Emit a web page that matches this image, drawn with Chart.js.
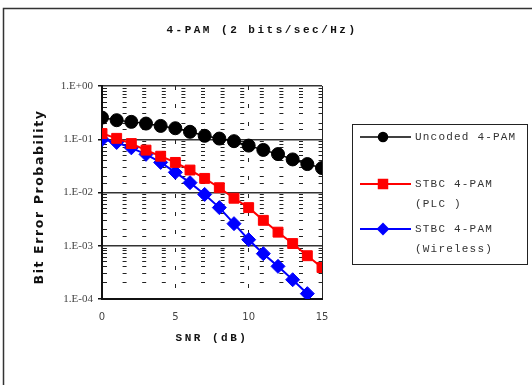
<!DOCTYPE html>
<html>
<head>
<meta charset="utf-8">
<script src="https://cdn.jsdelivr.net/npm/chart.js@4/dist/chart.umd.min.js"></script>
<style>
  html, body { margin: 0; padding: 0; background: #fff; }
  #wrap { width: 532px; height: 385px; }
</style>
</head>
<body>
<div id="wrap"><canvas id="berChart" width="532" height="385"></canvas></div>
<script>
// Du lieu doc tu hinh
const snr = [0, 1, 2, 3, 4, 5, 6, 7, 8, 9, 10, 11, 12, 13, 14, 15]
const uncoded = [0.255, 0.228, 0.212, 0.197, 0.178, 0.161, 0.138, 0.116, 0.103, 0.092, 0.076, 0.063, 0.0526, 0.0418, 0.0342, 0.0288]
const stbcPlc = [0.128, 0.104, 0.083, 0.0625, 0.048, 0.0367, 0.0264, 0.0184, 0.0123, 0.0078, 0.0052, 0.003, 0.0018, 0.0011, 0.00065, 0.00039]
const stbcWireless = [0.099, 0.087, 0.069, 0.052, 0.0367, 0.0239, 0.0153, 0.0092, 0.0052, 0.0026, 0.0013, 0.00071, 0.00041, 0.00023, 0.000126]
const yTickLabels = ['1.E-04', '1.E-03', '1.E-02', '1.E-01', '1.E+00']
const xTickLabels = ['0', '5', '10', '15']

const chartTitle = '4-PAM (2 bits/sec/Hz)'
const xTitle = 'SNR (dB)'
const yTitle = 'Bit Error Probability'

function toPoints(ys) {
  return ys.map((y, i) => ({ x: snr[i], y: y }))
}

function isDecade(v) {
  const l = Math.log10(v)
  return Math.abs(l - Math.round(l)) < 1e-9
}

// Ve tieu de, khung va chu thich
const decorPlugin = {
  id: 'decor',
  afterDraw(chart) {
    const c = chart.ctx
    c.save()
    // khung ngoai
    c.strokeStyle = '#333'
    c.lineWidth = 1.5
    c.beginPath()
    c.moveTo(3.5, 385)
    c.lineTo(3.5, 8.5)
    c.lineTo(532, 8.5)
    c.stroke()

    c.fillStyle = '#111'
    c.textAlign = 'center'
    c.textBaseline = 'middle'
    c.letterSpacing = '2.5px'
    c.font = 'bold 11px "Liberation Mono"'
    c.fillText(chartTitle, 262, 30)
    c.fillText(xTitle, 212, 338)

    c.save()
    c.translate(40, 197)
    c.rotate(-Math.PI / 2)
    c.letterSpacing = '1.6px'
    c.font = 'bold 12.5px "DejaVu Sans"'
    c.fillText(yTitle, 0, 0)
    c.restore()

    // chu thich
    c.letterSpacing = '0px'
    c.strokeStyle = '#222'
    c.lineWidth = 1
    c.strokeRect(352.5, 124.5, 175, 140)

    const rows = [137, 184, 229]
    chart.data.datasets.forEach((ds, i) => {
      const y = rows[i]
      c.strokeStyle = ds.borderColor
      c.lineWidth = ds.borderWidth
      c.beginPath()
      c.moveTo(360, y)
      c.lineTo(411, y)
      c.stroke()
      c.fillStyle = ds.pointBackgroundColor
      c.strokeStyle = ds.pointBorderColor
      Chart.helpers.drawPoint(c, {
        pointStyle: ds.pointStyle,
        radius: ds.legendRadius,
        rotation: 0,
        borderWidth: 1
      }, 383, y)
      c.fillStyle = '#333'
      c.textAlign = 'left'
      c.letterSpacing = '1.2px'
      c.font = '11px "Liberation Mono"'
      ds.label.forEach((t, k) => c.fillText(t, 415, y + k * 20))
    })
    c.restore()
  }
}

const ctx = document.getElementById('berChart').getContext('2d')

new Chart(ctx, {
  type: 'scatter',
  data: {
    datasets: [
      {
        label: ['Uncoded 4-PAM'],
        data: toPoints(uncoded),
        showLine: true,
        borderColor: '#000',
        borderWidth: 1.5,
        pointStyle: 'circle',
        pointRadius: 6.5,
        legendRadius: 4.5,
        pointBackgroundColor: '#000',
        pointBorderColor: '#000',
        pointBorderWidth: 1
      },
      {
        label: ['STBC 4-PAM', '(PLC )'],
        data: toPoints(stbcPlc),
        showLine: true,
        borderColor: '#ff0000',
        borderWidth: 2,
        pointStyle: 'rect',
        pointRadius: 7,
        legendRadius: 6,
        pointBackgroundColor: '#ff0000',
        pointBorderColor: '#ff0000',
        pointBorderWidth: 1
      },
      {
        label: ['STBC 4-PAM', '(Wireless)'],
        data: toPoints(stbcWireless),
        showLine: true,
        borderColor: '#0000ff',
        borderWidth: 2,
        pointStyle: 'rectRot',
        pointRadius: 7,
        legendRadius: 5,
        pointBackgroundColor: '#0000ff',
        pointBorderColor: '#0000ff',
        pointBorderWidth: 1
      }
    ]
  },
  options: {
    responsive: false,
    animation: false,
    events: [],
    layout: { padding: { left: 0, top: 86, right: 210, bottom: 0 } },
    plugins: {
      legend: { display: false },
      tooltip: { enabled: false }
    },
    scales: {
      x: {
        type: 'linear',
        min: 0,
        max: 15,
        afterFit: (s) => { s.height = 86 },
        afterBuildTicks: (s) => { s.ticks = xTickLabels.map(v => ({ value: Number(v) })) },
        ticks: {
          autoSkip: false,
          padding: 12,
          color: '#444',
          font: { family: 'DejaVu Sans', size: 10 },
          callback: (v) => xTickLabels.includes(String(v)) ? String(v) : ''
        },
        grid: {
          drawTicks: false,
          color: '#222',
          lineWidth: 1
        },
        border: {
          color: '#111',
          width: 2,
          dash: (c) => (c.tick && c.tick.value > 0 && c.tick.value < 15) ? [4, 14] : []
        }
      },
      y: {
        type: 'logarithmic',
        min: 0.0001,
        max: 1,
        afterFit: (s) => { s.width = 102 },
        ticks: {
          autoSkip: false,
          padding: 5,
          color: '#444',
          font: { family: 'Liberation Serif', size: 11 },
          callback: (v) => {
            if (!isDecade(v)) return ''
            return yTickLabels[Math.round(Math.log10(v)) + 4]
          }
        },
        grid: {
          tickLength: 4,
          color: (c) => (c.tick && isDecade(c.tick.value)) ? '#333' : '#222',
          tickColor: (c) => (c.tick && isDecade(c.tick.value)) ? '#111' : 'rgba(0,0,0,0)',
          lineWidth: (c) => (c.tick && isDecade(c.tick.value)) ? 1.5 : 1
        },
        border: {
          color: '#111',
          width: 2,
          dash: (c) => (c.tick && !isDecade(c.tick.value)) ? [4, 15.6] : []
        }
      }
    }
  },
  plugins: [decorPlugin]
})
</script>
</body>
</html>
